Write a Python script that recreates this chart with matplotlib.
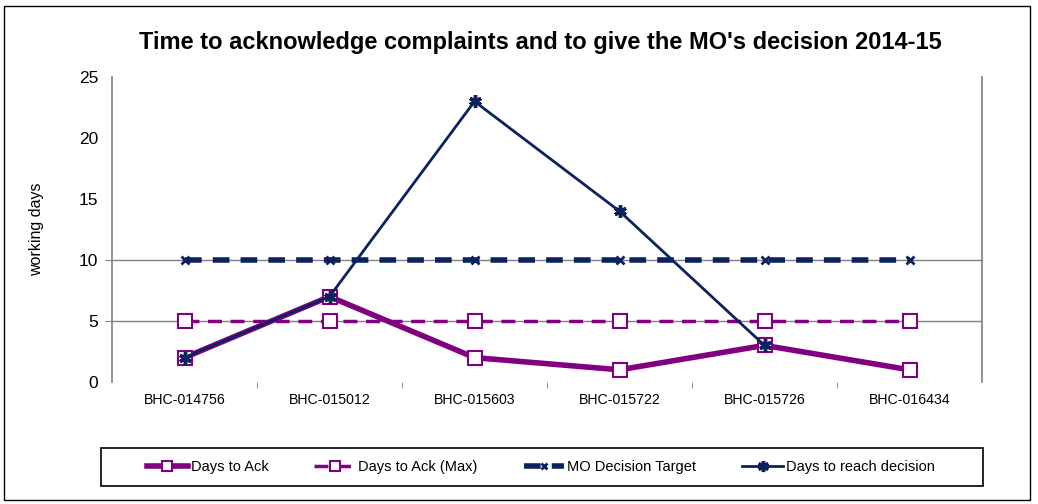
import numpy as np
import matplotlib.pyplot as plt
from matplotlib.patches import Rectangle

plt.rcParams['font.family'] = ['Liberation Sans', 'DejaVu Sans']

cases = ["BHC-014756", "BHC-015012", "BHC-015603", "BHC-015722", "BHC-015726", "BHC-016434"]
days_to_ack = [2, 7, 2, 1, 3, 1]
days_to_ack_max = [5, 5, 5, 5, 5, 5]
mo_target = [10, 10, 10, 10, 10, 10]
days_to_decision = [2, 7, 23, 14, 3, np.nan]

purple = "#800080"
navy = "#0c2260"

fig = plt.figure(figsize=(10.38, 5.04), dpi=100)
ax = fig.add_axes([112 / 1038, 1 - 382 / 504, 870 / 1038, 305 / 504])

x = np.arange(len(cases))

ax.plot(x, days_to_ack, color=purple, lw=4, marker="s", ms=9.5, mfc="white",
        mec=purple, mew=1.5, label="Days to Ack", zorder=4)
ax.plot(x, days_to_ack_max, color=purple, lw=2.5, ls=(0, (4, 2.5)), marker="s", ms=9.5,
        mfc="white", mec=purple, mew=1.5, label="Days to Ack (Max)", zorder=3)
ax.plot(x, mo_target, color=navy, lw=4, ls=(0, (3, 2)), marker="x", ms=6,
        mec=navy, mew=2, label="MO Decision Target", zorder=3)
ax.plot(x, days_to_decision, color=navy, lw=2, marker=(6, 2, 0), ms=9,
        mec=navy, mew=2.5, label="Days to reach decision", zorder=5)

ax.set_xlim(-0.5, len(cases) - 0.5)
ax.set_ylim(0, 25)
ax.set_yticks([0, 5, 10, 15, 20, 25])
ax.set_xticks(x)
ax.set_xticklabels(cases, fontsize=10.2)
ax.set_xticks(np.arange(0.5, len(cases) - 1, 1), minor=True)
ax.tick_params(axis="x", which="major", length=0, pad=8)
ax.tick_params(axis="x", which="minor", length=4, color="#808080")
ax.tick_params(axis="y", length=5, color="#808080", labelsize=12.5, pad=5)
# only the gridded values carry a tick mark
for val, tick in zip([0, 5, 10, 15, 20, 25], ax.yaxis.get_major_ticks()):
    if val not in (5, 10):
        tick.tick1line.set_visible(False)

for y in (5, 10):
    ax.axhline(y, color="#808080", lw=1, zorder=1)

for side in ("top", "bottom"):
    ax.spines[side].set_visible(False)
for side in ("left", "right"):
    ax.spines[side].set_color("#808080")
    ax.spines[side].set_linewidth(1.2)

ax.set_ylabel("working days", fontsize=11.5)
ax.yaxis.set_label_coords(-0.078, 0.5)

fig.text(540 / 1038, 1 - 42 / 504, "Time to acknowledge complaints and to give the MO's decision 2014-15",
         ha="center", va="center", fontsize=17, fontweight="bold")

leg = fig.legend(loc="center left", bbox_to_anchor=(147 / 1038, 1 - 467 / 504),
                 ncol=4, fontsize=10.5, frameon=False, borderpad=0, borderaxespad=0,
                 handlelength=2.8, handletextpad=0.2, columnspacing=3.15)
# smaller markers in the legend, star kept readable
for h, ms in zip(leg.legend_handles, [6.5, 6.5, 5, 8]):
    h.set_markersize(ms)

# legend box and outer chart border
fig.patches.append(Rectangle((101 / 1038, 1 - 486 / 504), 882 / 1038, 38 / 504,
                             transform=fig.transFigure, fill=False,
                             edgecolor="black", lw=1.2))
fig.patches.append(Rectangle((4 / 1038, 4 / 504), 1026 / 1038, 494 / 504,
                             transform=fig.transFigure, fill=False,
                             edgecolor="black", lw=1))

fig.savefig("out.png", dpi=100)
